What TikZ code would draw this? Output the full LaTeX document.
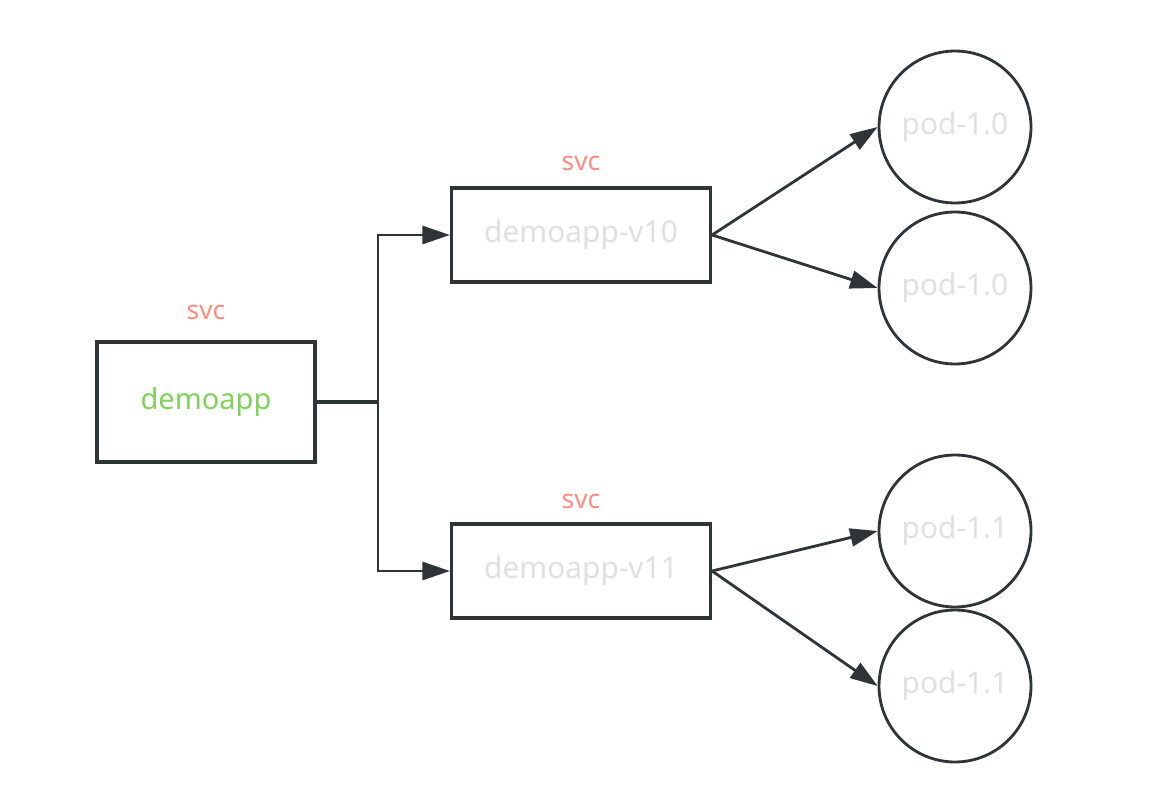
\documentclass[tikz,border=0pt]{standalone}
\usepackage{fontspec}
\setmainfont{Noto Sans}
\usepackage{xcolor}
\usetikzlibrary{arrows.meta}
\definecolor{dmline}{HTML}{2F3437}
\definecolor{dmgreen}{HTML}{7ED35A}
\definecolor{dmsalmon}{HTML}{FF8A80}
\definecolor{dmgray}{HTML}{E0E0E0}
\tikzset{
  dmbox/.style={draw=dmline, line width=1.8pt, fill=white, inner sep=0pt},
  dmpod/.style={circle, draw=dmline, line width=1.6pt, minimum size=3.04cm, inner sep=0pt,
    text=dmgray, font=\fontsize{17}{19}\selectfont},
  dmsvc/.style={text=dmsalmon, font=\fontsize{15}{17}\selectfont},
  dmlink/.style={draw=dmline, line width=1.6pt},
  dmarrow/.style={dmlink, -{Triangle[length=5.5mm, width=3.6mm]}},
}
\begin{document}
\begin{tikzpicture}[x=0.02cm, y=-0.02cm]
\useasboundingbox (0,0) rectangle (1152,804);
% services
\node[dmbox, minimum width=4.36cm, minimum height=2.4cm, text=dmgreen,
  font=\fontsize{16.5}{18}\selectfont] (demoapp) at (206,402) {demoapp};
\node[dmbox, minimum width=5.18cm, minimum height=1.88cm, text=dmgray,
  font=\fontsize{17}{19}\selectfont] (v10) at (581,235) {demoapp-v10};
\node[dmbox, minimum width=5.18cm, minimum height=1.88cm, text=dmgray,
  font=\fontsize{17}{19}\selectfont] (v11) at (581,571) {demoapp-v11};
\node[dmsvc] (svca) at (206,312) {svc};
\node[dmsvc] (svcb) at (581,163) {svc};
\node[dmsvc] (svcc) at (581,501) {svc};
% pods
\node[dmpod] (p1) at (955,127) {pod-1.0};
\node[dmpod] (p2) at (955,288) {pod-1.0};
\node[dmpod] (p3) at (955,531) {pod-1.1};
\node[dmpod] (p4) at (955,686) {pod-1.1};
% links
\coordinate (jn) at (378,402);
\draw[dmlink, line width=2.2pt] (demoapp.east) -- (jn);
\draw[dmarrow] (jn) |- (v10.west);
\draw[dmarrow] (jn) |- (v11.west);
\draw[dmarrow] (v10.east) -- (p1.west);
\draw[dmarrow] (v10.east) -- (p2.west);
\draw[dmarrow] (v11.east) -- (p3.west);
\draw[dmarrow] (v11.east) -- (p4.west);
\end{tikzpicture}
\end{document}
